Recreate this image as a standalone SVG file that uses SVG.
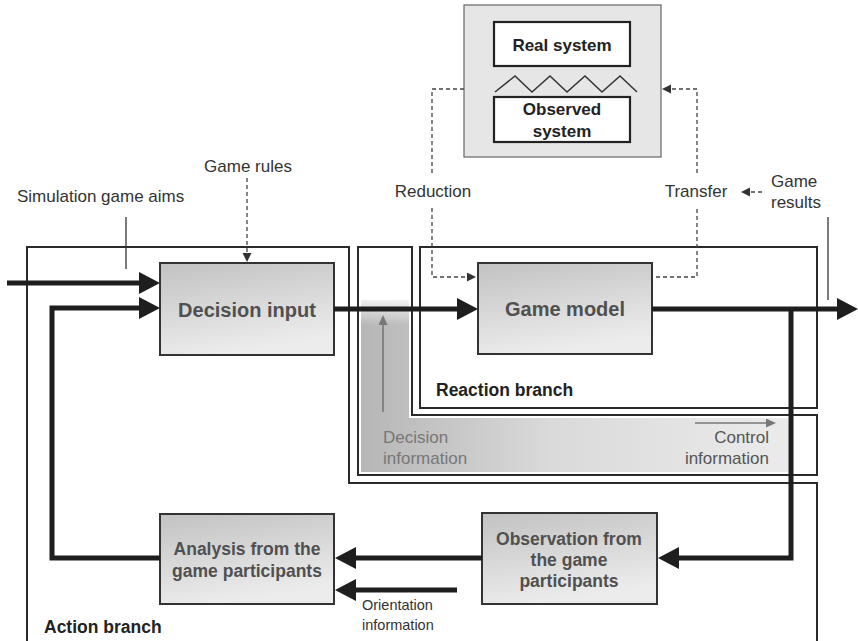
<svg xmlns="http://www.w3.org/2000/svg" width="858" height="641" viewBox="0 0 858 641">
<style>
  text { font-family: "Liberation Sans", Arial, sans-serif; }
  .lbl { font-size: 17px; fill: #333; }
  .small { font-size: 14.5px; fill: #333; }
  .gray { font-size: 17px; fill: #777; }
  .dgray { font-size: 17px; fill: #555; }
  .bold { font-size: 17.5px; font-weight: bold; fill: #222; }
  .node-t { font-size: 17.5px; font-weight: bold; fill: #505050; text-anchor: middle; }
  .node-big { font-size: 20px; font-weight: bold; fill: #505050; text-anchor: middle; }
  .sys-t { font-size: 17px; font-weight: bold; fill: #222; text-anchor: middle; }
  .node { fill: url(#nodeGrad); stroke: #333; stroke-width: 2; }
  .sysbox { fill: #fff; stroke: #222; stroke-width: 2.2; }
  .frame { fill: none; stroke: #2a2a2a; stroke-width: 2; }
  .thick { fill: none; stroke: #1e1e1e; stroke-width: 5; marker-end: url(#big); }
  .dash { fill: none; stroke: #444; stroke-width: 1.3; stroke-dasharray: 4 3; }
  .dasharrow { fill: none; stroke: #444; stroke-width: 1.3; stroke-dasharray: 4 3; marker-end: url(#small); }
  .thin { fill: none; stroke: #777; stroke-width: 1.6; marker-end: url(#grayhead); }
  .tick { fill: none; stroke: #333; stroke-width: 1.3; }
</style>
<defs>
  <linearGradient id="nodeGrad" x1="0" y1="0" x2="0.3" y2="1">
    <stop offset="0" stop-color="#c2c2c2"/>
    <stop offset="1" stop-color="#ececec"/>
  </linearGradient>
  <linearGradient id="shadeGrad" x1="361" y1="0" x2="788" y2="0" gradientUnits="userSpaceOnUse">
    <stop offset="0" stop-color="#b6b6b6"/>
    <stop offset="0.45" stop-color="#dadada"/>
    <stop offset="1" stop-color="#ebebeb"/>
  </linearGradient>
  <linearGradient id="fadeGrad" x1="0" y1="0" x2="0" y2="1">
    <stop offset="0" stop-color="#fff" stop-opacity="0.8"/>
    <stop offset="1" stop-color="#fff" stop-opacity="0"/>
  </linearGradient>
  <marker id="big" markerWidth="24" markerHeight="24" refX="1" refY="11" orient="auto" markerUnits="userSpaceOnUse">
    <path d="M0,0 L21,11 L0,22 z" fill="#1e1e1e"/>
  </marker>
  <marker id="small" markerWidth="10" markerHeight="10" refX="1" refY="4.5" orient="auto" markerUnits="userSpaceOnUse">
    <path d="M0,0 L9,4.5 L0,9 z" fill="#333"/>
  </marker>
  <marker id="grayhead" markerWidth="12" markerHeight="12" refX="1" refY="4.5" orient="auto" markerUnits="userSpaceOnUse">
    <path d="M0,0 L10,4.5 L0,9 z" fill="#777"/>
  </marker>
</defs>

<rect width="858" height="641" fill="#fff"/>

<!-- Frames (branches) -->
<g id="action-branch">
  <path class="frame" d="M27,641 L27,247 L349,247 L349,483 L817,483 L817,641" stroke-width="1.6"/>
  <text class="bold" x="44" y="633">Action branch</text>
</g>
<g id="decision-information-band">
  <path d="M361,300 L409,300 L409,418 L788,418 L788,472 L361,472 Z" fill="url(#shadeGrad)"/>
  <rect x="361" y="300" width="48" height="25" fill="url(#fadeGrad)"/>
  <path class="frame" d="M358,247 L412,247 L412,415 L817,415 L817,475 L358,475 Z"/>
  <text class="gray" x="383" y="443">Decision</text>
  <text class="gray" x="383" y="464">information</text>
  <text class="dgray" x="769" y="443" text-anchor="end">Control</text>
  <text class="dgray" x="769" y="464" text-anchor="end">information</text>
</g>
<g id="reaction-branch">
  <rect class="frame" x="420" y="247" width="397" height="161"/>
  <text class="bold" x="436" y="396">Reaction branch</text>
</g>

<!-- System box -->
<g id="system">
  <rect x="464" y="5" width="197" height="152" fill="#e6e6e6" stroke="#666" stroke-width="1.2"/>
  <g id="real-system">
    <rect class="sysbox" x="494" y="22" width="136" height="44"/>
    <text class="sys-t" x="562" y="51">Real system</text>
  </g>
  <polyline points="495,92 515,76 532,92 550,76 567,92 585,76 602,92 620,76 637,92" fill="none" stroke="#333" stroke-width="1.5"/>
  <g id="observed-system">
    <rect class="sysbox" x="494" y="97" width="136" height="45"/>
    <text class="sys-t" x="562" y="115">Observed</text>
    <text class="sys-t" x="562" y="137">system</text>
  </g>
</g>

<!-- Nodes -->
<g id="decision-input">
  <rect class="node" x="160" y="263" width="174" height="92"/>
  <text class="node-big" x="247" y="317">Decision input</text>
</g>
<g id="game-model">
  <rect class="node" x="478" y="263" width="174" height="91"/>
  <text class="node-big" x="565" y="316">Game model</text>
</g>
<g id="analysis">
  <rect class="node" x="160" y="514" width="174" height="90"/>
  <text class="node-t" x="247" y="555">Analysis from the</text>
  <text class="node-t" x="247" y="577">game participants</text>
</g>
<g id="observation">
  <rect class="node" x="482" y="513" width="175" height="91"/>
  <text class="node-t" x="569" y="545">Observation from</text>
  <text class="node-t" x="569" y="566">the game</text>
  <text class="node-t" x="569" y="587">participants</text>
</g>

<!-- Free labels -->
<g id="labels">
  <text class="lbl" x="17" y="202">Simulation game aims</text>
  <text class="lbl" x="248" y="172" text-anchor="middle">Game rules</text>
  <text class="lbl" x="433" y="197" text-anchor="middle">Reduction</text>
  <text class="lbl" x="696" y="197" text-anchor="middle">Transfer</text>
  <text class="lbl" x="771" y="187">Game</text>
  <text class="lbl" x="771" y="208">results</text>
  <text class="small" x="362" y="610">Orientation</text>
  <text class="small" x="362" y="630">information</text>
</g>

<!-- Connectors -->
<g id="connectors">
  <line class="tick" x1="126" y1="217" x2="126" y2="269"/>
  <line class="tick" x1="828" y1="217" x2="828" y2="300"/>
  <path class="dasharrow" d="M247,178 L247,254"/>
  <path class="dash" d="M464,89 L432,89 L432,173"/>
  <path class="dasharrow" d="M432,208 L432,277 L468,277"/>
  <path class="dash" d="M656,277 L697,277 L697,208"/>
  <path class="dasharrow" d="M697,173 L697,89 L670,89"/>
  <path class="dasharrow" d="M762,192 L749,192"/>
  <path class="thin" d="M383,412 L383,324"/>
  <path class="thin" d="M695,423 L767,423"/>
  <path class="thick" d="M7,283 L140,283"/>
  <path class="thick" d="M160,558 L52,558 L52,308 L140,308"/>
  <path class="thick" d="M334,309 L458,309"/>
  <path class="thick" d="M652,309 L838,309"/>
  <path class="thick" d="M791,309 L791,558 L678,558"/>
  <path class="thick" d="M482,558 L355,558"/>
  <path class="thick" d="M457,590 L355,590"/>
</g>
</svg>
